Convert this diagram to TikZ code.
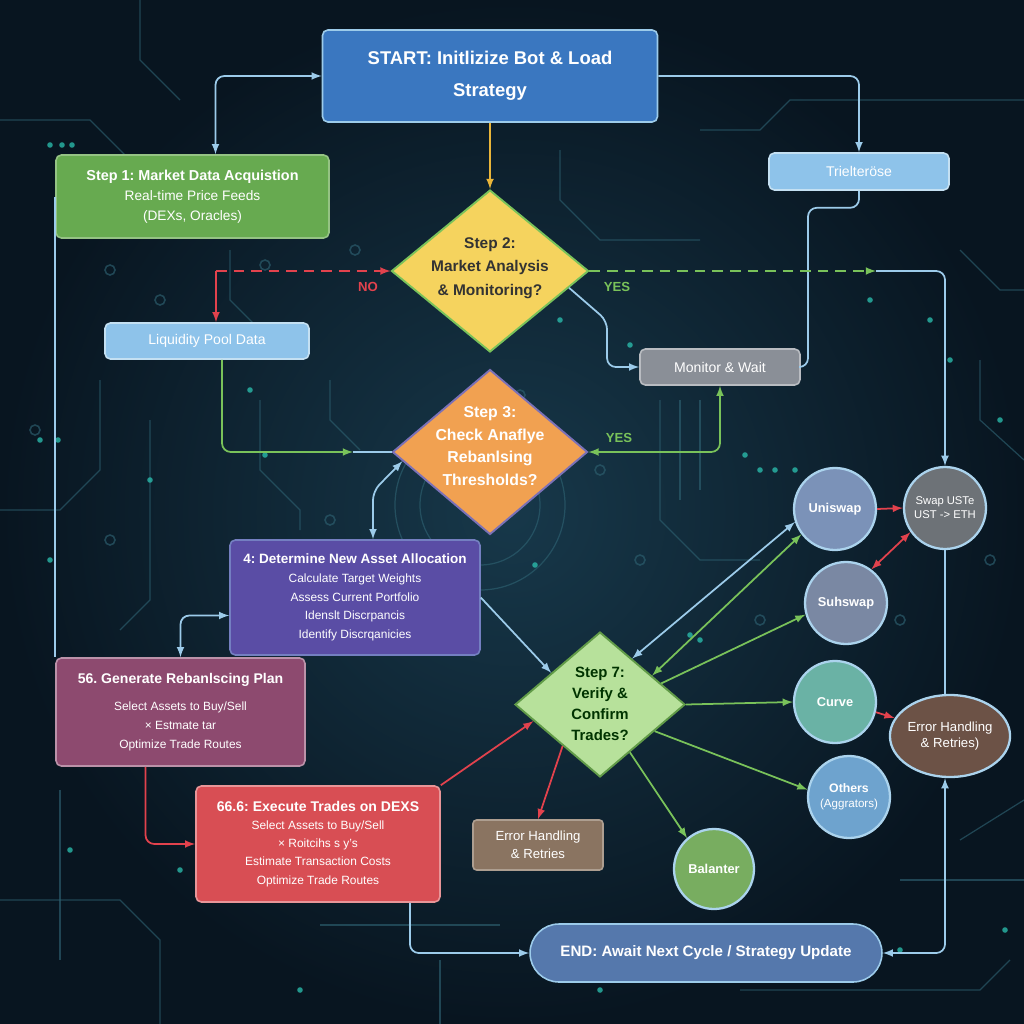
\documentclass[tikz,border=0pt]{standalone}
\usepackage{fontspec}
\setmainfont{Liberation Sans}
\usetikzlibrary{shapes.geometric}
\frenchspacing

\definecolor{bgdark}{HTML}{081520}
\definecolor{bgmid}{HTML}{17384A}
\definecolor{tracecol}{HTML}{2D6070}
\definecolor{dotteal}{HTML}{2CC3B2}
\definecolor{lineblue}{HTML}{9CCBEA}
\definecolor{linegreen}{HTML}{79C25A}
\definecolor{linered}{HTML}{E2424D}
\definecolor{lineyellow}{HTML}{E9B53A}
\definecolor{startblue}{HTML}{3A77C0}
\definecolor{stepgreen}{HTML}{67AA50}
\definecolor{paleblue}{HTML}{8EC3EA}
\definecolor{stepyellow}{HTML}{F5D35E}
\definecolor{steporange}{HTML}{F1A151}
\definecolor{monigray}{HTML}{8A8F97}
\definecolor{steppurple}{HTML}{5A4DA5}
\definecolor{stepmauve}{HTML}{8D4A6F}
\definecolor{stepred}{HTML}{D84E54}
\definecolor{steplime}{HTML}{B7E19B}
\definecolor{errbrown}{HTML}{8A7461}
\definecolor{unicol}{HTML}{7B92B8}
\definecolor{suhcol}{HTML}{7A88A3}
\definecolor{curvecol}{HTML}{6AB2A5}
\definecolor{othcol}{HTML}{6EA3CE}
\definecolor{balcol}{HTML}{78AD60}
\definecolor{swapcol}{HTML}{6D7277}
\definecolor{errccol}{HTML}{6C5246}
\definecolor{endblue}{HTML}{5578AC}

\begin{document}
\begin{tikzpicture}[
    x=0.02cm, y=-0.02cm,
    box/.style={rectangle, rounded corners=3pt, line width=0.9pt, text=white, align=center, inner sep=2pt},
    dia/.style={diamond, line width=1.1pt, inner sep=0pt},
    dtxt/.style={align=center, font=\fontsize{8.8}{13.5}\selectfont\bfseries},
    dex/.style={circle, minimum size=1.64cm, inner sep=0pt, line width=1.3pt, draw=lineblue!85!white, text=white, align=center, font=\fontsize{7.3}{9}\selectfont\bfseries},
    link/.style={-latex, line width=1pt, rounded corners=5pt},
    bline/.style={link, draw=lineblue, fill=none},
    gline/.style={link, draw=linegreen},
    rline/.style={link, draw=linered},
    trace/.style={draw=tracecol, line width=0.7pt, opacity=0.65},
    lbl/.style={font=\fontsize{7.5}{9}\selectfont\bfseries}
]

% Background
\useasboundingbox (0,0) rectangle (1024,1024);
\shade[inner color=bgmid, outer color=bgdark] (0,0) rectangle (1024,1024);
\draw[trace] (0,120) -- (90,120) -- (130,160);
\draw[trace] (140,0) -- (140,60) -- (180,100);
\draw[trace] (230,250) -- (230,300) -- (270,340);
\draw[trace] (100,380) -- (100,470) -- (60,510) -- (0,510);
\draw[trace] (150,420) -- (150,600) -- (120,630);
\draw[trace] (260,400) -- (260,470) -- (300,510) -- (300,530);
\draw[trace] (330,380) -- (330,420) -- (360,450);
\draw[trace] (560,150) -- (560,200) -- (600,240) -- (700,240);
\draw[trace] (700,130) -- (760,130) -- (790,100) -- (1024,100);
\draw[trace] (660,400) -- (660,520) -- (700,560) -- (760,560);
\draw[trace] (680,400) -- (680,500);
\draw[trace] (700,400) -- (700,490);
\draw[trace] (960,250) -- (1000,290) -- (1024,290);
\draw[trace] (980,360) -- (980,420) -- (1024,460);
\draw[trace] (0,900) -- (120,900) -- (160,940) -- (160,1024);
\draw[trace] (60,790) -- (60,960);
\draw[trace] (320,925) -- (500,925);
\draw[trace] (440,960) -- (440,1024);
\draw[trace] (900,880) -- (1024,880);
\draw[trace] (960,840) -- (1024,800);
\draw[trace] (740,990) -- (980,990) -- (1010,960);
\draw[trace] (480,505) circle (60);
\draw[trace] (480,505) circle (85);
\foreach \p in {(110,270),(160,300),(265,265),(330,520),(420,640),(520,395),(600,470),(640,560),(760,620),(900,620),(990,560),(35,430),(110,540),(355,250)}
  \draw[trace, line width=0.9pt] \p circle (5);
\foreach \p in {(50,145),(62,145),(72,145),(40,440),(58,440),(250,390),(265,455),(290,555),(560,320),(630,345),(745,455),(760,470),(775,470),(795,470),(690,635),(700,640),(870,300),(930,320),(950,360),(1000,420),(900,950),(1005,930),(70,850),(180,870),(300,990),(600,990),(50,560),(535,565),(150,480)}
  \fill[dotteal, opacity=0.75] \p circle (2.8);

% Nodes
\node[box, fill=startblue, draw=lineblue, minimum width=6.7cm, minimum height=1.84cm, font=\fontsize{10.5}{18}\selectfont\bfseries] (start) at (490,76) {START: Initlizize Bot \& Load\\Strategy};
\node[box, fill=stepgreen, draw=stepgreen!70!white, minimum width=5.46cm, minimum height=1.66cm, font=\fontsize{7.8}{11.5}\selectfont] (step1) at (192.5,196.5) {{\bfseries\fontsize{8.2}{12}\selectfont Step 1: Market Data Acquistion}\\Real-time Price Feeds\\(DEXs, Oracles)};
\node[box, fill=paleblue, draw=lineblue!60!white, minimum width=3.6cm, minimum height=0.74cm, font=\fontsize{8}{9}\selectfont] (triel) at (859,171.5) {Trielteröse};
\node[dia, fill=stepyellow, draw=linegreen, minimum width=3.94cm, minimum height=3.24cm] (step2) at (490,271) {};
\node[dtxt, text=black!80] (step2t) at (490,268) {Step 2:\\Market Analysis\\\& Monitoring?};
\node[box, fill=paleblue, draw=lineblue!60!white, minimum width=4.08cm, minimum height=0.72cm, font=\fontsize{8}{9}\selectfont] (liq) at (207,341) {Liquidity Pool Data};
\node[box, fill=monigray, draw=monigray!60!white, minimum width=3.2cm, minimum height=0.72cm, font=\fontsize{8}{9}\selectfont] (mon) at (720,367) {Monitor \& Wait};
\node[dia, fill=steporange, draw=steppurple!80!white, minimum width=3.9cm, minimum height=3.3cm] (step3) at (490,452) {};
\node[dtxt, text=white, font=\fontsize{9}{12.8}\selectfont\bfseries] (step3t) at (490,446) {Step 3:\\Check Anaflye\\Rebanlsing\\Thresholds?};
\node[box, fill=steppurple, draw=steppurple!60!lineblue, minimum width=5cm, minimum height=2.3cm, font=\fontsize{6.8}{10.6}\selectfont] (step4) at (355,597.5) {{\bfseries\fontsize{7.7}{11.4}\selectfont 4: Determine New Asset Allocation}\\Calculate Target Weights\\Assess Current Portfolio\\Idenslt Discrpancis\\Identify Discrqanicies};
\node[box, fill=stepmauve, draw=stepmauve!60!white, minimum width=4.98cm, minimum height=2.16cm, font=\fontsize{6.8}{10.8}\selectfont] (step56) at (180.5,712) {{\bfseries\fontsize{8}{11}\selectfont 56. Generate Rebanlscing Plan}\\[5pt]Select Assets to Buy/Sell\\× Estmate tar\\Optimize Trade Routes};
\node[box, fill=stepred, draw=stepred!60!white, minimum width=4.88cm, minimum height=2.32cm, font=\fontsize{6.8}{10.3}\selectfont] (step66) at (318,844) {{\bfseries\fontsize{8}{11}\selectfont 66.6: Execute Trades on DEXS}\\Select Assets to Buy/Sell\\× Roitcihs s y's\\Estimate Transaction Costs\\Optimize Trade Routes};
\node[dia, fill=steplime, draw=linegreen!80!black, minimum width=3.4cm, minimum height=2.9cm] (step7) at (600,704.5) {};
\node[dtxt, text=black!80!green, font=\fontsize{8.5}{12}\selectfont\bfseries] (step7t) at (600,704) {Step 7:\\Verify \&\\Confirm\\Trades?};
\node[box, fill=errbrown, draw=errbrown!70!white, rounded corners=2pt, minimum width=2.6cm, minimum height=1cm, font=\fontsize{7.5}{10}\selectfont] (err1) at (538,845) {Error Handling\\\& Retries};
\node[dex, fill=unicol] (uni) at (835,509) {Uniswap};
\node[dex, fill=swapcol, font=\fontsize{6.4}{8}\selectfont] (swap) at (945,508) {Swap USTe\\UST ‐> ETH};
\node[dex, fill=suhcol] (suh) at (846,603) {Suhswap};
\node[dex, fill=curvecol] (curve) at (835,702) {Curve};
\node[dex, fill=othcol, font=\fontsize{6.6}{8.5}\selectfont] (oth) at (849,797) {{\bfseries\fontsize{7}{8.5}\selectfont Others}\\(Aggrators)};
\node[dex, fill=balcol, minimum size=1.6cm] (bal) at (714,869) {Balanter};
\node[ellipse, fill=errccol, draw=lineblue!85!white, line width=1.3pt, minimum width=2.08cm, minimum height=1.64cm, inner sep=0pt, text=white, align=center, font=\fontsize{7.5}{9.5}\selectfont] (errc) at (950,736) {Error Handling\\\& Retries)};
\node[box, fill=endblue, draw=lineblue, rounded corners=0.58cm, minimum width=7.04cm, minimum height=1.16cm, font=\fontsize{8.6}{10}\selectfont\bfseries] (end) at (706,953) {END: Await Next Cycle / Strategy Update};
\coordinate (j1) at (876,271);
\coordinate (j2) at (216,271);
\coordinate (j3) at (353,452);

% Connectors
\draw[bline, latex-latex] (start.west) -| ([xshift=0.46cm]step1.north);
\draw[link, draw=lineyellow] (start.south) -- (step2.north);
\draw[bline] (start.east) -| (triel.north);
\draw[bline, -] (triel.south) -- ++(0,17) -- ++(-51,0) |- (mon.east);
\draw[gline, dash pattern=on 6pt off 4pt] (step2.east) -- (j1);
\draw[bline] (j1) -| (swap.north);
\draw[rline, dash pattern=on 6pt off 4pt] (j2) -- (step2.west);
\draw[rline, rounded corners=0pt] (j2) -- (j2 |- liq.north);
\draw[bline] (step2.-12) -- ++(38,33) |- (mon.west);
\draw[gline, latex-latex] (step3.east) -| (mon.south);
\draw[gline] ([xshift=0.3cm]liq.south) |- (j3);
\draw[bline, -] (j3) -- (step3.west);
\draw[bline, latex-latex] ([xshift=0.36cm]step4.north) -- ++(0,-48) -- (step3.186);
\draw[bline, latex-latex] ([yshift=-0.36cm]step4.west) -| (step56.north);
\draw[bline, -] (step1.west) -- (step1.west |- step56.north);
\draw[rline] ([xshift=-0.7cm]step56.south) |- (step66.west);
\draw[rline] (step66.north east) -- (step7.194);
\draw[bline] ([xshift=1.84cm]step66.south) |- (end.west);
\draw[bline] (step4.east) -- (step7.147);
\draw[bline, latex-latex] (step7.55) -- (uni.198);
\draw[gline, latex-latex] (step7.29) -- (uni.217);
\draw[gline] (step7.19) -- (suh.196);
\draw[gline] (step7.east) -- (curve.west);
\draw[gline] (step7.-26) -- (oth.170);
\draw[gline] (step7.-58) -- (bal.131);
\draw[rline] (step7.228) -- (err1.north);
\draw[rline] (uni.east) -- (swap.west);
\draw[rline, latex-latex] (suh.53) -- (swap.215);
\draw[rline] (curve.-14) -- (errc.162);
\draw[bline, -] (swap.south) -- ([xshift=-0.1cm]errc.north);
\draw[bline, latex-latex] (end.east) -| ([xshift=-0.1cm]errc.south);

% Labels
\node[lbl, text=linered] (nolbl) at (368,287) {NO};
\node[lbl, text=linegreen] (yes2) at (617,287) {YES};
\node[lbl, text=linegreen] (yes3) at (619,438) {YES};

\end{tikzpicture}
\end{document}
